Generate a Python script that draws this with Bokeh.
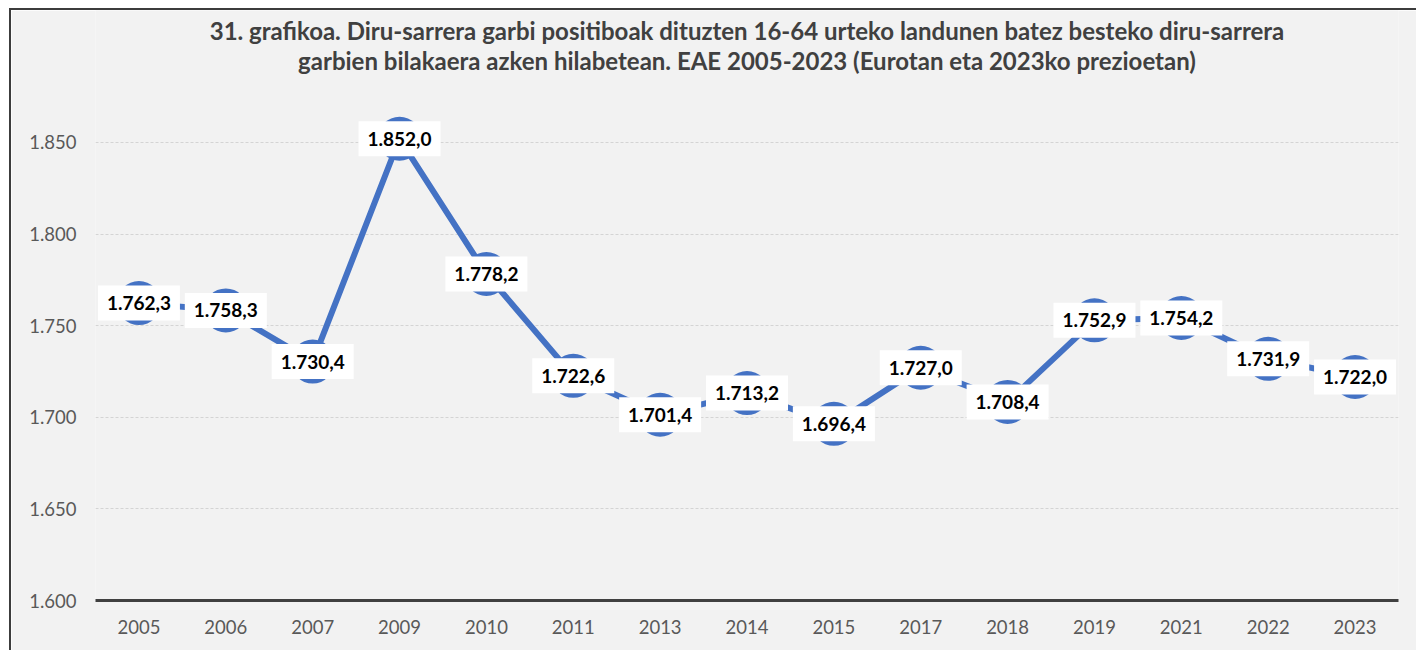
from bokeh.plotting import figure
from bokeh.models import ColumnDataSource, FixedTicker, Range1d, Label
from bokeh.core.properties import value
from bokeh.embed import file_html
from bokeh.resources import INLINE

years = ["2005", "2006", "2007", "2009", "2010", "2011", "2013", "2014",
         "2015", "2017", "2018", "2019", "2021", "2022", "2023"]
income = [1762.3, 1758.3, 1730.4, 1852.0, 1778.2, 1722.6, 1701.4, 1713.2,
          1696.4, 1727.0, 1708.4, 1752.9, 1754.2, 1731.9, 1722.0]
y_ticks = [1600, 1650, 1700, 1750, 1800, 1850]
y_tick_labels = ["1.600", "1.650", "1.700", "1.750", "1.800", "1.850"]
title_lines = [
    "31. grafikoa. Diru-sarrera garbi positiboak dituzten 16-64 urteko landunen batez besteko diru-sarrera",
    "garbien bilakaera azken hilabetean. EAE 2005-2023 (Eurotan eta 2023ko prezioetan)",
]


def fmt(v):
    s = f"{v:,.1f}"
    return s.replace(",", "X").replace(".", ",").replace("X", ".")


labels = [fmt(v) for v in income]
src = ColumnDataSource(dict(x=years, y=income, lab=labels))

BG = "#f2f2f2"
FONT = "Lato"

p = figure(x_range=years, y_range=Range1d(1600, 1922),
           width=1407, height=642, output_backend="svg",
           toolbar_location=None, min_border_left=84, min_border_right=20,
           min_border_top=0, min_border_bottom=52)
p.background_fill_color = BG
p.border_fill_color = BG
p.outline_line_color = None
p.styles = {"margin-left": "9px", "margin-top": "8px",
            "border-left": "2px solid #3c3c3c", "border-top": "2px solid #3c3c3c"}

p.xgrid.grid_line_color = None
p.ygrid.grid_line_color = "#d4d4d4"
p.ygrid.grid_line_dash = "3 2"
p.ygrid.grid_line_width = 1

p.yaxis.ticker = FixedTicker(ticks=y_ticks)
p.yaxis.major_label_overrides = {t: l for t, l in zip(y_ticks, y_tick_labels)}
p.yaxis.axis_line_color = None
p.yaxis.major_tick_line_color = None
p.yaxis.minor_tick_line_color = None
p.yaxis.major_label_text_font = FONT
p.yaxis.major_label_text_font_size = "18.5px"
p.yaxis.major_label_text_color = "#595959"
p.yaxis.major_label_standoff = 13

p.xaxis.axis_line_color = "#404040"
p.xaxis.axis_line_width = 3
p.xaxis.major_tick_line_color = None
p.xaxis.minor_tick_line_color = None
p.xaxis.major_label_text_font = FONT
p.xaxis.major_label_text_font_size = "18.5px"
p.xaxis.major_label_text_color = "#595959"
p.xaxis.major_label_standoff = 13

BLUE = "#4472c4"
p.line("x", "y", source=src, line_color=BLUE, line_width=6)
p.scatter("x", "y", source=src, size=44, fill_color=BLUE, line_color=None)
p.rect("x", "y", source=src, width=82, height=35, width_units="screen",
       height_units="screen", fill_color="white", line_color=None)
p.text("x", "y", text="lab", source=src, text_font=value(FONT),
       text_font_style="bold", text_font_size="19px", text_color="black",
       text_align="center", text_baseline="middle")

# Title, centred over the chart centre (which lies over the 8th category)
title_y = [1911, 1894.8]
for line, ty in zip(title_lines, title_y):
    p.add_layout(Label(x=7.5, y=ty, text=line, text_align="center",
                       text_baseline="middle", text_font=FONT,
                       text_font_style="bold", text_font_size="24px",
                       text_color="#404040"))

open("out.html", "w").write(file_html(p, INLINE))
